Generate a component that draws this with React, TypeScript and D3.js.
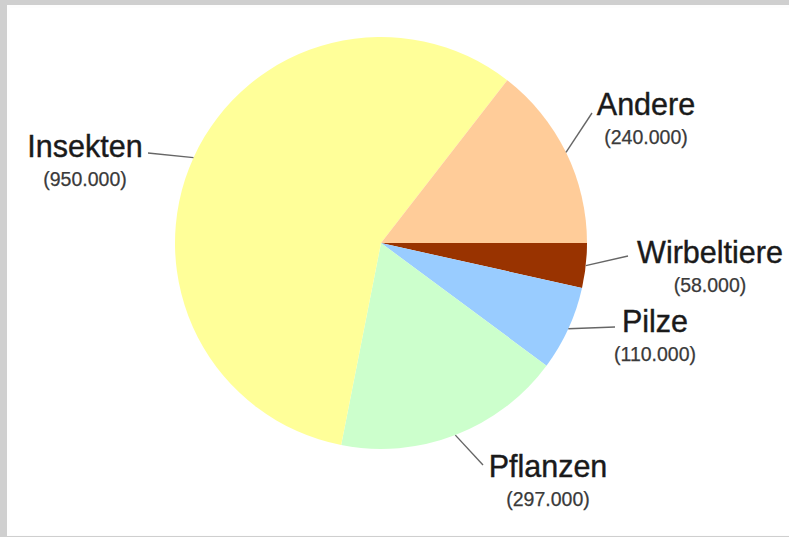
import React from "react";
import * as d3 from "d3";

const categories = ["Wirbeltiere", "Pilze", "Pflanzen", "Insekten", "Andere"];
const values = [58000, 110000, 297000, 950000, 240000];
const valueLabels = ["(58.000)", "(110.000)", "(297.000)", "(950.000)", "(240.000)"];
const colors = ["#993300", "#99CCFF", "#CCFFCC", "#FFFF99", "#FFCC99"];
// label layout: leader end point and label block centre/baseline
const labelLayout = [
  { lx: 628, ly: 256, cx: 710, by: 263 },
  { lx: 615, ly: 327, cx: 655, by: 332 },
  { lx: 483, ly: 465, cx: 548, by: 477 },
  { lx: 148, ly: 153, cx: 85, by: 157 },
  { lx: 592, ly: 113, cx: 646, by: 115 },
];

const W = 789;
const H = 537;
const CX = 381;
const CY = 243;
const R = 206;

export default function App() {
  const data = categories.map((c, i) => ({ name: c, value: values[i], i }));
  const pie = d3
    .pie<any>()
    .sort(null)
    .value((d) => d.value)
    .startAngle(Math.PI / 2)
    .endAngle(Math.PI / 2 + 2 * Math.PI);
  const arcs = pie(data);
  const arc = d3.arc<any>().innerRadius(0).outerRadius(R);

  return (
    <svg
      width={W}
      height={H}
      style={{ position: "absolute", left: 0, top: 0 }}
      fontFamily="'Liberation Sans', Arial, sans-serif"
    >
      <rect x={0} y={0} width={W} height={H} fill="#cfcfcf" />
      <rect x={7} y={5} width={W - 7} height={H - 6} fill="#fdfdfd" />
      <rect x={10} y={8} width={W - 10} height={H - 10} fill="#ffffff" />
      <g transform={`translate(${CX},${CY})`}>
        {arcs.map((a) => (
          <path key={a.data.name} d={arc(a) as string} fill={colors[a.data.i]} />
        ))}
      </g>
      {arcs.map((a) => {
        const mid = (a.startAngle + a.endAngle) / 2;
        const sx = CX + R * Math.sin(mid);
        const sy = CY - R * Math.cos(mid);
        const L = labelLayout[a.data.i];
        return (
          <g key={"l" + a.data.name}>
            <line x1={sx} y1={sy} x2={L.lx} y2={L.ly} stroke="#666" strokeWidth={1.4} />
            <text x={L.cx} y={L.by} textAnchor="middle" fontSize={30.5} fill="#1a1a1a" stroke="#1a1a1a" strokeWidth={0.4}>
              {a.data.name}
            </text>
            <text x={L.cx} y={L.by + 29} textAnchor="middle" fontSize={19.5} fill="#3a3a3a" stroke="#3a3a3a" strokeWidth={0.25}>
              {valueLabels[a.data.i]}
            </text>
          </g>
        );
      })}
    </svg>
  );
}
